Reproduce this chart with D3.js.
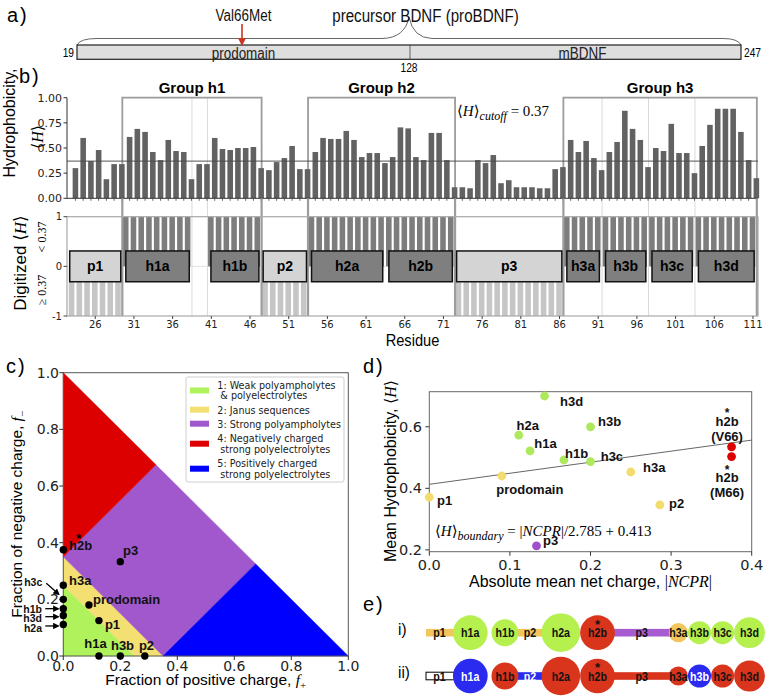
<!DOCTYPE html>
<html><head><meta charset="utf-8">
<script src="https://cdn.jsdelivr.net/npm/d3@7/dist/d3.min.js"></script>
<style>html,body{margin:0;padding:0;background:#fff;}svg{display:block;}</style>
</head><body>
<svg id="fig" width="768" height="697" xmlns="http://www.w3.org/2000/svg"></svg>
<script>
// ======================= DATA =======================
// panel a
const proteinStart = 19, mbdnfStart = 128, proteinEnd = 247, mutationResidue = 66;
const domainNames = ['prodomain', 'mBDNF'];

// panel b
const residues = d3.range(23, 112);
const hydrophobicity = [
  0.30,0.60,0.37,0.48,0.19,0.34,0.34,
  0.61,0.69,0.66,0.46,0.38,0.58,0.47,0.46,0.19,
  0.34,0.34,
  0.60,0.49,0.48,0.50,0.50,0.51,
  0.30,0.28,0.36,0.40,0.52,0.29,0.29,
  0.46,0.60,0.59,0.59,0.67,0.58,0.41,0.45,0.45,0.35,
  0.41,0.705,0.695,0.41,0.38,0.65,0.65,0.38,
  0.11,0.11,0.10,0.38,0.35,0.43,0.15,0.18,0.11,0.11,0.11,0.10,0.10,0.29,0.31,
  0.58,0.46,0.57,0.40,0.28,0.46,0.56,0.87,0.69,0.58,0.31,0.50,0.47,0.74,0.45,0.45,0.25,0.52,0.73,0.89,0.89,0.89,0.66,0.38,0.20
];
const hCutoff = 0.37;
const hTicks = [0, 0.25, 0.5, 0.75, 1];
const residueTicks = [26,31,36,41,46,51,56,61,66,71,76,81,86,91,96,101,106,111];
const segNames = ['p1','h1a','h1b','p2','h2a','h2b','p3','h3a','h3b','h3c','h3d'];
const segStart = [23,30,41,48,54,64,73,87,92,98,104];
const segEnd   = [29,38,47,53,63,72,86,91,97,103,111];
const segType  = ['p','h','h','p','h','h','p','h','h','h','h'];
const groupNames = ['Group h1','Group h2','Group h3'];
const groupStart = [30,54,87];
const groupEnd   = [47,72,111];
const subBoundaries = [38.5, 40.5, 91.5, 97.5, 103.5];

// panel c
const cNames  = ['h2b','p3','h3a','h3c','prodomain','h1b','h3d','h2a','p1','h1a','h3b','p2'];
const fPlus   = [0, 0.20, 0, 0, 0.09, 0, 0, 0, 0.125, 0.125, 0.20, 0.286];
const fMinus  = [0.375, 0.333, 0.25, 0.20, 0.18, 0.167, 0.143, 0.111, 0.125, 0, 0, 0];
const fcrWeak = 0.25, fcrStrong = 0.35, ncprStrong = 0.35;
const regionLabels = [
  ['1: Weak polyampholytes', ' & polyelectrolytes'],
  ['2: Janus sequences'],
  ['3: Strong polyampholytes'],
  ['4: Negatively charged', ' strong polyelectrolytes'],
  ['5: Positively charged', ' strong polyelectrolytes']
];
const regionColors = ['#b0f25c', '#f3df72', '#a058cc', '#dc0000', '#0000ff'];
const cTicks = [0, 0.2, 0.4, 0.6, 0.8, 1.0];

// panel d
const dNames = ['h3d','h2a','h1a','h3b','h1b','h3c','h3a','h2b (V66)','h2b (M66)','prodomain','p1','p2','p3'];
const ncprAbs = [0.143, 0.111, 0.125, 0.200, 0.167, 0.200, 0.250, 0.375, 0.375, 0.090, 0.000, 0.286, 0.133];
const meanH   = [0.700, 0.573, 0.522, 0.600, 0.492, 0.487, 0.453, 0.535, 0.503, 0.440, 0.371, 0.346, 0.213];
const dRegion = [1, 1, 1, 1, 1, 1, 2, 4, 4, 2, 2, 2, 3];
const boundaryDivisor = 2.785, boundaryOffset = 0.413;
const dXTicks = [0, 0.1, 0.2, 0.3, 0.4];
const dYTicks = [0.2, 0.4, 0.6];
const dPointColors = {1: '#aee85c', 2: '#f3dc6e', 3: '#a050cc', 4: '#dd0000'};

// panel e
const rowIClass  = ['janus','weak','weak','janus','weak','neg','strongPA','janus','weak','weak','weak'];
const rowIIClass = ['none','pos','neg','pos','neg','neg','neg','neg','pos','neg','neg'];
const eColors = {janus:'#f2c65c', weak:'#b5f04e', neg:'#d9341c', strongPA:'#a65cd0', pos:'#2b2bf0', none:'#ffffff'};

// ======================= DRAWING =======================
const SANS = "'Liberation Sans', Arial, Helvetica, sans-serif";
const DV = "'DejaVu Sans', sans-serif";
const SERIF = "'Liberation Serif', 'DejaVu Serif', serif";
const svg = d3.select('#fig');
svg.append('rect').attr('width', 768).attr('height', 697).attr('fill', '#fff');

function txt(g, s, x, y, o = {}) {
  const t = g.append('text').attr('x', x).attr('y', y).text(s)
    .attr('font-family', o.family || SANS).attr('font-size', o.size || 12)
    .attr('font-weight', o.weight || 'normal').attr('text-anchor', o.anchor || 'start')
    .attr('fill', o.fill || '#000');
  if (o.italic) t.attr('font-style', 'italic');
  if (o.ls) t.attr('letter-spacing', o.ls);
  if (o.rotate) t.attr('transform', `rotate(${o.rotate},${x},${y})`);
  if (o.squeeze) {
    const L = t.node().getComputedTextLength();
    t.attr('textLength', L * o.squeeze).attr('lengthAdjust', 'spacingAndGlyphs');
  }
  return t;
}
function mathText(g, x, y, parts, o = {}) {
  const t = g.append('text').attr('x', x).attr('y', y)
    .attr('font-family', o.family || SERIF).attr('font-size', o.size || 15)
    .attr('text-anchor', o.anchor || 'start').attr('fill', '#000');
  if (o.rotate) t.attr('transform', `rotate(${o.rotate},${x},${y})`);
  parts.forEach(p => {
    const ts = t.append('tspan').text(p.t);
    if (p.i) ts.attr('font-style', 'italic');
    if (p.f) ts.attr('font-family', p.f);
    if (p.s) ts.attr('font-size', p.s);
    if (p.dy) ts.attr('dy', p.dy);
  });
  return t;
}

// panel labels
[['a)', 7, 22], ['b)', 19, 83], ['c)', 6, 373], ['d)', 363, 373], ['e)', 363, 611]]
  .forEach(d => txt(svg, d[0], d[1], d[2], {size: 20, ls: 2}));

// ---------------- panel a ----------------
const gA = svg.append('g');
const xA = d3.scaleLinear().domain([proteinStart, mutationResidue, mbdnfStart, proteinEnd]).range([77, 242, 410, 741]);
{
  const L = xA(proteinStart), M = xA(mbdnfStart), R = xA(proteinEnd);
  gA.append('path')
    .attr('d', `M${L},45 Q${L + 3},38.5 ${L + 20},38.5 L${M - 28},38.5 Q${M - 5},38 ${M - 1},17 Q${M + 3},38 ${M + 22},38.5 L${R - 18},38.5 Q${R - 3},38.5 ${R},45`)
    .attr('fill', 'none').attr('stroke', '#666').attr('stroke-width', 1);
  gA.append('rect').attr('x', L).attr('y', 45).attr('width', R - L).attr('height', 14.3)
    .attr('fill', '#dedede').attr('stroke', '#222').attr('stroke-width', 1.2);
  gA.append('line').attr('x1', M).attr('x2', M).attr('y1', 45).attr('y2', 59.3).attr('stroke', '#444').attr('stroke-width', 0.8);
  txt(gA, domainNames[0], (L + M) / 2, 59, {size: 16, anchor: 'middle', squeeze: 0.84, fill: '#222'});
  txt(gA, domainNames[1], (M + R) / 2 + 7, 59, {size: 16, anchor: 'middle', squeeze: 0.84, fill: '#222'});
  txt(gA, String(proteinStart), L - 3, 57, {size: 12, anchor: 'end', squeeze: 0.85});
  txt(gA, String(proteinEnd), R + 3, 57, {size: 12, anchor: 'start', squeeze: 0.85});
  txt(gA, String(mbdnfStart), M - 1, 72, {size: 12, anchor: 'middle', squeeze: 0.85});
  txt(gA, 'precursor BDNF (proBDNF)', 425.5, 22, {size: 18, anchor: 'middle', squeeze: 0.84, fill: '#111'});
  const mx = xA(mutationResidue);
  txt(gA, 'Val' + mutationResidue + 'Met', mx + 1.5, 21, {size: 16, anchor: 'middle', squeeze: 0.84, fill: '#111'});
  gA.append('line').attr('x1', mx).attr('x2', mx).attr('y1', 24).attr('y2', 39).attr('stroke', '#cc3322').attr('stroke-width', 1.6);
  gA.append('path').attr('d', `M${mx - 4},38 L${mx + 4},38 L${mx},46 Z`).attr('fill', '#cc3322');
}

// ---------------- panel b ----------------
const gB = svg.append('g');
const xB = d3.scaleLinear().domain([22.35, 111.65]).range([67, 758]);
const yT = d3.scaleLinear().domain([0, 1]).range([198.3, 97.7]);
const yDg = d3.scaleLinear().domain([-1, 1]).range([316, 216.7]);
const bw = xB(0.72) - xB(0);

gB.append('line').attr('x1', xB.range()[0]).attr('x2', xB.range()[1]).attr('y1', yDg(0)).attr('y2', yDg(0)).attr('stroke', '#e2e2e2');
subBoundaries.forEach(b => {
  gB.append('line').attr('x1', xB(b)).attr('x2', xB(b)).attr('y1', yT(1)).attr('y2', yDg(-1)).attr('stroke', '#dadada').attr('stroke-width', 1);
});
groupNames.forEach((n, i) => {
  const x0 = xB(groupStart[i] - 0.5), x1 = xB(groupEnd[i] + 0.5);
  gB.append('path').attr('d', `M${x0},${yT(0)} L${x0},${yT(1)} L${x1},${yT(1)} L${x1},${yT(0)}`)
    .attr('fill', 'none').attr('stroke', '#9c9c9c').attr('stroke-width', 1.8);
  txt(gB, n, (x0 + x1) / 2, 93, {size: 15, weight: 'bold', anchor: 'middle'});
});
gB.selectAll('rect.hbar').data(residues).join('rect').attr('class', 'hbar')
  .attr('x', r => xB(r + 0.08)).attr('width', bw)
  .attr('y', (r, i) => yT(hydrophobicity[i])).attr('height', (r, i) => yT(0) - yT(hydrophobicity[i]))
  .attr('fill', '#626262');
gB.append('line').attr('x1', xB.range()[0]).attr('x2', xB.range()[1]).attr('y1', yT(hCutoff)).attr('y2', yT(hCutoff))
  .attr('stroke', '#4a4a4a').attr('stroke-width', 1.3).attr('opacity', 0.75);
mathText(gB, 457, 116, [{t: '⟨'}, {t: 'H', i: 1}, {t: '⟩'}, {t: 'cutoff', i: 1, s: 12, dy: 4}, {t: ' = 0.37', dy: -4}], {size: 15});
gB.append('line').attr('x1', 67).attr('x2', 67).attr('y1', yT(0)).attr('y2', yT(1)).attr('stroke', '#333');
gB.append('line').attr('x1', 67).attr('x2', xB.range()[1]).attr('y1', yT(0)).attr('y2', yT(0)).attr('stroke', '#333');
hTicks.forEach(v => {
  gB.append('line').attr('x1', 63.5).attr('x2', 67).attr('y1', yT(v)).attr('y2', yT(v)).attr('stroke', '#333');
  txt(gB, v.toFixed(2), 62, yT(v) + 4, {family: DV, size: 11, anchor: 'end', fill: '#222'});
});
residues.forEach(r => {
  const x = xB(r + 0.44);
  gB.append('line').attr('x1', x).attr('x2', x).attr('y1', yT(0)).attr('y2', yT(0) + 2.5).attr('stroke', '#444').attr('stroke-width', 0.8);
});
txt(gB, 'Hydrophobicity,', 15, 123, {size: 16, anchor: 'middle', rotate: -90});
mathText(gB, 43, 137, [{t: '⟨'}, {t: 'H', i: 1}, {t: '⟩'}], {size: 16, anchor: 'middle', rotate: -90});

segNames.forEach((n, i) => {
  const isH = segType[i] === 'h';
  for (let r = segStart[i]; r <= segEnd[i]; r++) {
    gB.append('rect').attr('x', xB(r - 0.42)).attr('width', bw)
      .attr('y', isH ? yDg(1) : yDg(0)).attr('height', yDg(0) - yDg(1))
      .attr('fill', isH ? '#7d7d7d' : '#c6c6c6');
  }
});
groupNames.forEach((n, i) => {
  [groupStart[i] - 0.5, groupEnd[i] + 0.5].forEach(b => {
    gB.append('line').attr('x1', xB(b)).attr('x2', xB(b)).attr('y1', yT(0)).attr('y2', yDg(-1))
      .attr('stroke', '#9c9c9c').attr('stroke-width', 2.2);
  });
});
gB.append('rect').attr('x', 67).attr('y', yDg(1)).attr('width', xB.range()[1] - 67).attr('height', yDg(-1) - yDg(1))
  .attr('fill', 'none').attr('stroke', '#a8a8a8').attr('stroke-width', 1.2);
segNames.forEach((n, i) => {
  const isH = segType[i] === 'h';
  const x0 = xB(segStart[i] - (isH ? 0.05 : 0.3)), x1 = xB(segEnd[i] + (isH ? 0.15 : 0.3));
  gB.append('rect').attr('x', x0).attr('y', yDg(0.31)).attr('width', x1 - x0).attr('height', yDg(-0.31) - yDg(0.31))
    .attr('fill', isH ? '#7f7f7f' : '#d4d4d4').attr('stroke', '#111').attr('stroke-width', 1.5);
  txt(gB, n, (x0 + x1) / 2, yDg(0) + 5, {size: 14, weight: 'bold', anchor: 'middle'});
});
[[1, '1'], [0, '0'], [-1, '-1']].forEach(d => {
  gB.append('line').attr('x1', 63.5).attr('x2', 67).attr('y1', yDg(d[0])).attr('y2', yDg(d[0])).attr('stroke', '#444');
  txt(gB, d[1], 62, yDg(d[0]) + 3.5, {family: DV, size: 10, anchor: 'end', fill: '#222'});
});
residueTicks.forEach(r => {
  gB.append('line').attr('x1', xB(r)).attr('x2', xB(r)).attr('y1', yDg(-1)).attr('y2', yDg(-1) + 3).attr('stroke', '#444');
  txt(gB, String(r), xB(r), 327.5, {family: DV, size: 10, anchor: 'middle', fill: '#222'});
});
txt(gB, 'Residue', (67 + xB.range()[1]) / 2, 346, {size: 17, anchor: 'middle', squeeze: 0.86});
mathText(gB, 26, 263, [{t: 'Digitized ', f: SANS}, {t: '⟨'}, {t: 'H', i: 1}, {t: '⟩'}], {size: 17, anchor: 'middle', rotate: -90});
mathText(gB, 46, 237, [{t: '< 0.37'}], {size: 12, anchor: 'middle', rotate: -90});
mathText(gB, 46, 290, [{t: '≥ 0.37'}], {size: 12, anchor: 'middle', rotate: -90});

// ---------------- panel c ----------------
const gC = svg.append('g');
const xC = d3.scaleLinear().domain([0, 1]).range([63.3, 348.3]);
const yC = d3.scaleLinear().domain([0, 1]).range([656, 372.7]);
const mid1 = [(1 + ncprStrong) / 2, (1 - ncprStrong) / 2], mid2 = [(1 - ncprStrong) / 2, (1 + ncprStrong) / 2];
const regionPolys = [
  [[0, 0], [fcrWeak, 0], [0, fcrWeak]],
  [[fcrWeak, 0], [fcrStrong, 0], [0, fcrStrong], [0, fcrWeak]],
  [[fcrStrong, 0], mid1, mid2, [0, fcrStrong]],
  [[0, fcrStrong], mid2, [0, 1]],
  [[fcrStrong, 0], [1, 0], mid1]
];
const lineC = d3.line().x(d => xC(d[0])).y(d => yC(d[1]));
regionPolys.forEach((p, i) => {
  gC.append('path').attr('d', lineC(p) + 'Z').attr('fill', regionColors[i]).attr('stroke', regionColors[i]).attr('stroke-width', 0.5);
});
gC.append('rect').attr('x', xC(0)).attr('y', yC(1)).attr('width', xC(1) - xC(0)).attr('height', yC(0) - yC(1))
  .attr('fill', 'none').attr('stroke', '#555').attr('stroke-width', 1);
cTicks.forEach(v => {
  gC.append('line').attr('x1', xC(0) - 4).attr('x2', xC(0)).attr('y1', yC(v)).attr('y2', yC(v)).attr('stroke', '#333');
  txt(gC, v.toFixed(1), 59, yC(v) + 5, {family: DV, size: 14, anchor: 'end', fill: '#222'});
  gC.append('line').attr('x1', xC(v)).attr('x2', xC(v)).attr('y1', yC(0)).attr('y2', yC(0) + 4).attr('stroke', '#333');
  txt(gC, v.toFixed(1), xC(v), 671, {family: DV, size: 14, anchor: 'middle', fill: '#222'});
});
mathText(gC, (xC(0) + xC(1)) / 2, 685, [{t: 'Fraction of positive charge, ', f: SANS}, {t: 'f', i: 1}, {t: '+', s: 11, dy: 4}], {size: 15.5, anchor: 'middle'});
mathText(gC, 22, (yC(0) + yC(1)) / 2, [{t: 'Fraction of negative charge, ', f: SANS}, {t: 'f', i: 1}, {t: '−', s: 11, dy: 4}], {size: 15.5, anchor: 'middle', rotate: -90});
{
  const lg = gC.append('g');
  lg.append('rect').attr('x', 186).attr('y', 377).attr('width', 158).attr('height', 105).attr('rx', 2)
    .attr('fill', '#fff').attr('fill-opacity', 0.9).attr('stroke', '#cfcfcf');
  const swY = [390.5, 409.7, 423.7, 443.7, 468.7];
  const txY = [[388.5, 399], [413.5], [427.5], [441.8, 452.5], [466.8, 477.5]];
  regionLabels.forEach((lines, i) => {
    lg.append('rect').attr('x', 190).attr('y', swY[i] - 3).attr('width', 19).attr('height', 6).attr('fill', regionColors[i]);
    lines.forEach((l, j) => txt(lg, l, 217.3, txY[i][j], {family: DV, size: 9.6, fill: '#222'}).style('white-space', 'pre'));
  });
}
const cLab = {
  'h2b': [5.7, -0.2, 'start'], 'p3': [2.7, -6.4, 'start'], 'h3a': [5.7, -0.6, 'start'], 'prodomain': [4, -1.4, 'start'],
  'p1': [6, 8, 'start'], 'h1a': [-3.4, -8.1, 'middle'], 'h3b': [2.2, -6.4, 'middle'], 'p2': [1.7, -6.4, 'middle']
};
const cArrow = {
  'h3c': {lab: [-21, -13.8], a0: [-17, -16], a1: [-4.5, -5]},
  'h1b': {lab: [-21.3, 4], a0: [-18, 0], a1: [-5, 0]},
  'h3d': {lab: [-21.3, 6.5], a0: [-18, 1.2], a1: [-5, 1.2]},
  'h2a': {lab: [-21.3, 7.4], a0: [-18, 1.4], a1: [-5, 1.4]}
};
svg.append('defs').append('marker').attr('id', 'ah').attr('viewBox', '0 0 10 10').attr('refX', 8).attr('refY', 5)
  .attr('markerWidth', 5).attr('markerHeight', 5).attr('orient', 'auto')
  .append('path').attr('d', 'M0,0 L10,5 L0,10 Z').attr('fill', '#000');
cNames.forEach((n, i) => {
  const x = xC(fPlus[i]), y = yC(fMinus[i]);
  gC.append('circle').attr('cx', x).attr('cy', y).attr('r', 3.7).attr('fill', '#000');
  if (cLab[n]) {
    const [dx, dy, an] = cLab[n];
    txt(gC, n, x + dx, y + dy, {size: 13, weight: 'bold', anchor: an, fill: '#111'});
  } else if (cArrow[n]) {
    const a = cArrow[n];
    txt(gC, n, x + a.lab[0], y + a.lab[1], {size: 10.5, weight: 'bold', anchor: 'end', fill: '#111'});
    gC.append('line').attr('x1', x + a.a0[0]).attr('y1', y + a.a0[1]).attr('x2', x + a.a1[0]).attr('y2', y + a.a1[1])
      .attr('stroke', '#000').attr('stroke-width', 1.3).attr('marker-end', 'url(#ah)');
  }
  if (n === 'h2b') txt(gC, '*', x + 15.5, y - 6.5, {size: 13, weight: 'bold', anchor: 'middle'});
});

// ---------------- panel d ----------------
const gD = svg.append('g');
const xD = d3.scaleLinear().domain([0, 0.4]).range([429.3, 751.7]);
const yD = d3.scaleLinear().domain([0.194, 0.714]).range([551.7, 391.7]);
gD.append('rect').attr('x', xD(0)).attr('y', yD(0.714)).attr('width', xD(0.4) - xD(0)).attr('height', yD(0.194) - yD(0.714))
  .attr('fill', 'none').attr('stroke', '#666').attr('stroke-width', 1);
dXTicks.forEach(v => {
  gD.append('line').attr('x1', xD(v)).attr('x2', xD(v)).attr('y1', yD(0.194)).attr('y2', yD(0.194) + 4).attr('stroke', '#333');
  txt(gD, v.toFixed(1), xD(v), 569.5, {family: DV, size: 14.5, anchor: 'middle', fill: '#222'});
});
dYTicks.forEach(v => {
  gD.append('line').attr('x1', xD(0) - 4).attr('x2', xD(0)).attr('y1', yD(v)).attr('y2', yD(v)).attr('stroke', '#333');
  txt(gD, v.toFixed(1), 422, yD(v) + 5, {family: DV, size: 14.5, anchor: 'end', fill: '#222'});
});
gD.append('line').attr('x1', xD(0)).attr('x2', xD(0.4))
  .attr('y1', yD(0 / boundaryDivisor + boundaryOffset)).attr('y2', yD(0.4 / boundaryDivisor + boundaryOffset))
  .attr('stroke', '#555').attr('stroke-width', 0.9);
mathText(gD, 435, 536, [{t: '⟨'}, {t: 'H', i: 1}, {t: '⟩'}, {t: 'boundary', i: 1, s: 12, dy: 4}, {t: ' = |', dy: -4}, {t: 'NCPR', i: 1}, {t: '|/2.785 + 0.413'}], {size: 15});
mathText(gD, (xD(0) + xD(0.4)) / 2, 587, [{t: 'Absolute mean net charge,  ', f: SANS}, {t: '|'}, {t: 'NCPR', i: 1}, {t: '|'}], {size: 16, anchor: 'middle'});
mathText(gD, 396, 471, [{t: 'Mean Hydrophobicity, ', f: SANS}, {t: '⟨'}, {t: 'H', i: 1}, {t: '⟩'}], {size: 16, anchor: 'middle', rotate: -90});
const dLab = {
  'h3d': [15.5, 10.4, 'start'], 'h2a': [9, -5.3, 'middle'], 'h1a': [4.3, -2.3, 'start'], 'h3b': [7.5, -1.1, 'start'],
  'h1b': [1.1, -1.9, 'start'], 'h3c': [10.2, -0.7, 'start'], 'h3a': [12.2, -0.1, 'start'], 'prodomain': [28, 17.9, 'middle'],
  'p1': [7.7, 7.4, 'start'], 'p2': [9.2, 3, 'start'], 'p3': [6.6, -1.3, 'start']
};
dNames.forEach((n, i) => {
  const x = xD(ncprAbs[i]), y = yD(meanH[i]);
  gD.append('circle').attr('cx', x).attr('cy', y).attr('r', 4.4).attr('fill', dPointColors[dRegion[i]]);
  if (dLab[n]) {
    const [dx, dy, an] = dLab[n];
    txt(gD, n, x + dx, y + dy, {size: 13, weight: 'bold', anchor: an, fill: '#111'});
  } else {
    const parts = n.split(' ');
    const up = parts[1] === '(V66)';
    const offs = up ? [-29.8, -20.8, -5.5] : [17.7, 25.3, 40.3];
    const lines = ['*', parts[0], parts[1]];
    lines.forEach((l, j) => txt(gD, l, x - 4.5, y + offs[j], {size: j === 0 ? 12 : 13, weight: 'bold', anchor: 'middle', fill: '#111'}));
  }
});

// ---------------- panel e ----------------
const gE = svg.append('g');
const rScale = d3.scaleLinear().domain([5, 10]).range([9.6, 19.3]);
const barPx = 3.85, gapPx = 1.9;
const layout = [];
{
  let cur = 426;
  segNames.forEach((n, i) => {
    const len = segEnd[i] - segStart[i] + 1;
    if (i > 0) cur += (segStart[i] - segEnd[i - 1] - 1) * gapPx;
    if (segType[i] === 'p') { layout.push({n, t: 'p', x0: cur, x1: cur + len * barPx}); cur += len * barPx; }
    else { const r = rScale(len); layout.push({n, t: 'h', cx: cur + r, r}); cur += 2 * r; }
  });
}
txt(gE, 'i)', 398, 635, {size: 17, squeeze: 0.9});
txt(gE, 'ii)', 398, 678, {size: 17, squeeze: 0.9});
[[632.7, rowIClass], [676, rowIIClass]].forEach(([cy, cls]) => {
  layout.forEach((s, i) => {
    if (s.t !== 'p') return;
    const c = cls[i];
    const x0 = i === 0 ? s.x0 : s.x0 - 4, x1 = s.x1 + 4;
    gE.append('rect').attr('x', x0).attr('y', cy - 3.8).attr('width', x1 - x0).attr('height', 7.6)
      .attr('fill', eColors[c]).attr('stroke', c === 'none' ? '#000' : 'none').attr('stroke-width', 1);
  });
  layout.forEach((s, i) => {
    if (s.t !== 'h') return;
    gE.append('circle').attr('cx', s.cx).attr('cy', cy).attr('r', s.r).attr('fill', eColors[cls[i]]);
  });
  layout.forEach((s, i) => {
    const x = s.t === 'h' ? s.cx : (s.x0 + s.x1) / 2;
    const fill = cls[i] === 'pos' ? '#fff' : '#111';
    txt(gE, s.n, x, cy + 4.5, {size: 13, weight: 'bold', anchor: 'middle', fill, squeeze: 0.82});
    if (s.n === 'h2b') txt(gE, '*', x, cy - 4, {size: 13, weight: 'bold', anchor: 'middle', fill: '#111'});
  });
});
</script>
</body></html>
